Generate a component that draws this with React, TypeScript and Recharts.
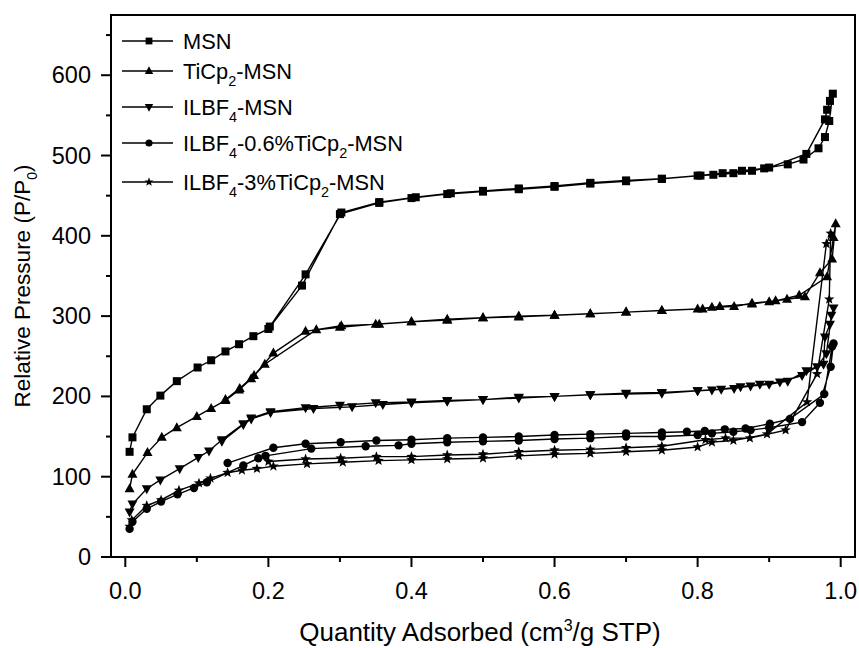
import { Label, Legend, Line, LineChart, ReferenceArea, XAxis, YAxis } from "recharts";

const FONT = "Arial, 'Liberation Sans', sans-serif";

// each series: adsorption branch, then desorption branch back down
const MSN_X = [
  0.006, 0.01, 0.03, 0.049, 0.072, 0.101, 0.12, 0.14, 0.159, 0.179, 0.2, 0.247, 0.3, 0.355, 0.4, 0.45, 0.5, 0.55,
  0.6, 0.65, 0.7, 0.75, 0.8, 0.835, 0.862, 0.893, 0.926, 0.948, 0.969, 0.978, 0.984, 0.989,
  0.985, 0.981, 0.978, 0.952, 0.9, 0.876, 0.85, 0.822, 0.804, 0.75, 0.7, 0.65, 0.6, 0.55, 0.5, 0.455, 0.406, 0.355,
  0.302, 0.252, 0.202
];
const MSN_Y = [
  131, 149, 184, 201, 219, 236, 245, 256, 265, 275, 284, 338, 427, 441, 447, 452, 455, 458,
  461, 465, 468, 471, 475, 478, 481, 484, 489, 495, 509, 523, 543, 577,
  568, 557, 545, 502, 485, 481, 478, 476, 475, 471, 469, 466, 462, 459, 456, 453, 448, 442,
  429, 352, 287
];

const TICP_X = [
  0.006, 0.01, 0.031, 0.051, 0.072, 0.1, 0.12, 0.14, 0.159, 0.176, 0.195, 0.267, 0.3, 0.35, 0.4, 0.45, 0.5, 0.55,
  0.6, 0.65, 0.7, 0.75, 0.807, 0.831, 0.876, 0.9, 0.925, 0.95, 0.971, 0.988, 0.993,
  0.99, 0.981, 0.942, 0.909, 0.876, 0.851, 0.82, 0.8, 0.75, 0.7, 0.65, 0.6, 0.55, 0.5, 0.45, 0.4, 0.355, 0.302,
  0.252, 0.207, 0.18, 0.16, 0.14
];
const TICP_Y = [
  85, 103, 130, 149, 161, 175, 185, 195, 208, 222, 240, 283, 286, 290, 293, 295, 298, 299,
  301, 303, 305, 307, 309, 312, 315, 318, 321, 324, 354, 371, 415,
  398, 349, 326, 319, 316, 312, 311, 309, 307, 305, 303, 301, 300, 298, 296, 293, 290, 288,
  281, 254, 226, 210, 196
];

const IL_X = [
  0.006, 0.01, 0.03, 0.049, 0.076, 0.102, 0.117, 0.135, 0.165, 0.176, 0.203, 0.252, 0.3, 0.35, 0.4, 0.45, 0.5, 0.55,
  0.6, 0.65, 0.7, 0.75, 0.8, 0.833, 0.86, 0.887, 0.915, 0.946, 0.967, 0.98, 0.987, 0.99,
  0.985, 0.978, 0.976, 0.952, 0.926, 0.9, 0.874, 0.851, 0.82, 0.8, 0.75, 0.7, 0.65, 0.6, 0.55, 0.5, 0.45, 0.4,
  0.36, 0.317, 0.263, 0.203, 0.176, 0.165, 0.135
];
const IL_Y = [
  56, 66, 85, 96, 110, 124, 132, 146, 166, 173, 181, 186, 189, 192, 193, 195, 196, 199,
  200, 202, 204, 205, 207, 209, 212, 215, 218, 226, 237, 253, 301, 310,
  290, 274, 240, 232, 219, 215, 213, 210, 208, 207, 204, 203, 202, 200, 198, 196, 194, 192,
  190, 187, 185, 180, 172, 165, 144
];

const IL06_X = [
  0.006, 0.01, 0.03, 0.05, 0.073, 0.096, 0.114, 0.165, 0.186, 0.196, 0.26, 0.336, 0.382, 0.4, 0.45, 0.5, 0.55,
  0.6, 0.65, 0.7, 0.75, 0.8, 0.82, 0.85, 0.874, 0.9, 0.946, 0.971, 0.986, 0.99,
  0.988, 0.977, 0.929, 0.901, 0.867, 0.838, 0.81, 0.785, 0.75, 0.7, 0.65, 0.6, 0.55, 0.5, 0.45, 0.4, 0.351,
  0.301, 0.252, 0.207, 0.143
];
const IL06_Y = [
  35, 44, 60, 69, 78, 86, 93, 114, 123, 126, 135, 138, 139, 141, 143, 144, 145,
  147, 148, 150, 150, 152, 154, 156, 158, 161, 168, 192, 237, 266,
  262, 203, 172, 166, 160, 159, 157, 156, 155, 154, 153, 152, 150, 149, 148, 146, 145,
  143, 141, 136, 117
];

const IL3_X = [
  0.006, 0.009, 0.03, 0.05, 0.075, 0.103, 0.119, 0.143, 0.163, 0.184, 0.207, 0.254, 0.304, 0.354, 0.4, 0.45, 0.5,
  0.55, 0.6, 0.65, 0.7, 0.75, 0.8, 0.82, 0.85, 0.897, 0.953, 0.98, 0.986,
  0.984, 0.967, 0.923, 0.873, 0.839, 0.811, 0.75, 0.7, 0.65, 0.6, 0.55, 0.5, 0.45, 0.4, 0.351, 0.301, 0.252, 0.2
];
const IL3_Y = [
  38, 46, 64, 71, 83, 92, 98, 105, 108, 110, 113, 116, 118, 120, 121, 122, 123,
  126, 128, 129, 131, 133, 137, 143, 145, 153, 193, 390, 403,
  321, 228, 158, 148, 148, 146, 138, 136, 134, 133, 131, 128, 127, 125, 125, 123, 122, 119
];

const X_TICKS = [0, 0.1, 0.2, 0.3, 0.4, 0.5, 0.6, 0.7, 0.8, 0.9, 1.0];
const Y_TICKS = [0, 50, 100, 150, 200, 250, 300, 350, 400, 450, 500, 550, 600, 650];

type Shape = "square" | "up" | "down" | "circle" | "star";

const pair = (xs: number[], ys: number[]) => xs.map((x, i) => ({ x, y: ys[i] }));

const SERIES: { name: string; shape: Shape; data: { x: number; y: number }[] }[] = [
  { name: "MSN", shape: "square", data: pair(MSN_X, MSN_Y) },
  { name: "TiCp_2-MSN", shape: "up", data: pair(TICP_X, TICP_Y) },
  { name: "ILBF_4-MSN", shape: "down", data: pair(IL_X, IL_Y) },
  { name: "ILBF_4-0.6%TiCp_2-MSN", shape: "circle", data: pair(IL06_X, IL06_Y) },
  { name: "ILBF_4-3%TiCp_2-MSN", shape: "star", data: pair(IL3_X, IL3_Y) }
];

function starPoints(cx: number, cy: number, ro: number, ri: number) {
  const pts: string[] = [];
  for (let i = 0; i < 10; i++) {
    const a = ((-90 + i * 36) * Math.PI) / 180;
    const r = i % 2 ? ri : ro;
    pts.push(`${cx + r * Math.cos(a)},${cy + r * Math.sin(a)}`);
  }
  return pts.join(" ");
}

function Marker({ shape, cx, cy, scale = 1 }: { shape: Shape; cx: number; cy: number; scale?: number }) {
  const s = scale;
  switch (shape) {
    case "square":
      return <rect x={cx - 4 * s} y={cy - 4 * s} width={8 * s} height={8 * s} fill="#000" />;
    case "up":
      return (
        <polygon
          points={`${cx},${cy - 5.5 * s} ${cx - 5 * s},${cy + 3.5 * s} ${cx + 5 * s},${cy + 3.5 * s}`}
          fill="#000"
        />
      );
    case "down":
      return (
        <polygon
          points={`${cx},${cy + 5.5 * s} ${cx - 5 * s},${cy - 3.5 * s} ${cx + 5 * s},${cy - 3.5 * s}`}
          fill="#000"
        />
      );
    case "circle":
      return <circle cx={cx} cy={cy} r={4.2 * s} fill="#000" />;
    default:
      return <polygon points={starPoints(cx, cy, 5.5 * s, 2.3 * s)} fill="#000" />;
  }
}

const dotFor = (shape: Shape) => (props: any) => {
  const { cx, cy, index } = props;
  if (cx == null || cy == null) return <g key={`${shape}-${index}`} />;
  return (
    <g key={`${shape}-${index}`}>
      <Marker shape={shape} cx={cx} cy={cy} />
    </g>
  );
};

// "TiCp_2-MSN" -> TiCp, subscript 2, -MSN
function RichText({ text, x, y, size }: { text: string; x: number; y: number; size: number }) {
  const parts = text.split(/_(\d)/);
  let shifted = false;
  return (
    <text x={x} y={y} fontSize={size} fontFamily={FONT} fill="#000">
      {parts.map((p, i) => {
        if (i % 2 === 1) {
          shifted = true;
          return (
            <tspan key={i} dy={7} fontSize={size * 0.66}>
              {p}
            </tspan>
          );
        }
        const dy = shifted ? -7 : 0;
        shifted = false;
        return (
          <tspan key={i} dy={dy}>
            {p}
          </tspan>
        );
      })}
    </text>
  );
}

const LEGEND_ROWS = [21, 51, 87, 123, 162];

function LegendBox() {
  return (
    <svg width={360} height={180} style={{ display: "block" }}>
      {SERIES.map((s, i) => {
        const cy = LEGEND_ROWS[i];
        return (
          <g key={s.name}>
            <line x1={12} x2={63} y1={cy} y2={cy} stroke="#000" strokeWidth={1.5} />
            <Marker shape={s.shape} cx={39} cy={cy} scale={0.85} />
            <RichText text={s.name} x={73} y={cy + 7.5} size={21.8} />
          </g>
        );
      })}
    </svg>
  );
}

function XTick(props: any) {
  const { x, y, payload } = props;
  const v = payload.value as number;
  const major = Math.round(v * 10) % 2 === 0;
  return (
    <g>
      <line x1={x} x2={x} y1={y} y2={y + (major ? 10 : 5)} stroke="#000" strokeWidth={2} />
      {major && (
        <text x={x} y={y + 42} textAnchor="middle" fontSize={23.5} fontFamily={FONT} fill="#000">
          {v.toFixed(1)}
        </text>
      )}
    </g>
  );
}

function YTick(props: any) {
  const { x, y, payload } = props;
  const v = payload.value as number;
  const major = v % 100 === 0;
  return (
    <g>
      <line x1={x - (major ? 10 : 5)} x2={x} y1={y} y2={y} stroke="#000" strokeWidth={2} />
      {major && (
        <text x={x - 20} y={y + 8} textAnchor="end" fontSize={23.5} fontFamily={FONT} fill="#000">
          {v}
        </text>
      )}
    </g>
  );
}

function XTitle(props: any) {
  const vb = props.viewBox;
  return (
    <text x={vb.x + vb.width / 2 - 3} y={vb.y + 84} textAnchor="middle" fontSize={26} fontFamily={FONT} fill="#000">
      <tspan>Quantity Adsorbed (cm</tspan>
      <tspan dy={-10} fontSize={16}>
        3
      </tspan>
      <tspan dy={10}>/g STP)</tspan>
    </text>
  );
}

function YTitle(props: any) {
  const vb = props.viewBox;
  const cx = 30;
  const cy = vb.y + vb.height / 2;
  return (
    <text
      x={cx}
      y={cy}
      transform={`rotate(-90, ${cx}, ${cy})`}
      textAnchor="middle"
      fontSize={22.5}
      fontFamily={FONT}
      fill="#000"
    >
      <tspan>Relative Pressure (P/P</tspan>
      <tspan dy={7} fontSize={14}>
        0
      </tspan>
      <tspan dy={-7}>)</tspan>
    </text>
  );
}

export default function App() {
  return (
    <div style={{ position: "absolute", left: 0, top: 0, background: "#fff", fontFamily: FONT }}>
      <LineChart width={859} height={648} margin={{ top: 15, right: 4, bottom: 0, left: 0 }}>
        <XAxis
          dataKey="x"
          type="number"
          domain={[-0.02, 1.02]}
          allowDataOverflow
          ticks={X_TICKS}
          interval={0}
          tickSize={0}
          tickMargin={0}
          tickLine={false}
          tick={<XTick />}
          axisLine={{ stroke: "#000", strokeWidth: 2 }}
          height={91}
        >
          <Label content={<XTitle />} />
        </XAxis>
        <YAxis
          dataKey="y"
          type="number"
          domain={[0, 675]}
          allowDataOverflow
          ticks={Y_TICKS}
          interval={0}
          tickSize={0}
          tickMargin={0}
          tickLine={false}
          tick={<YTick />}
          axisLine={{ stroke: "#000", strokeWidth: 2 }}
          width={111}
        >
          <Label content={<YTitle />} />
        </YAxis>
        <ReferenceArea x1={-0.02} x2={1.02} y1={0} y2={675} fill="none" stroke="#000" strokeWidth={2} />
        {SERIES.map((s) => (
          <Line
            key={s.name}
            data={s.data}
            dataKey="y"
            name={s.name}
            type="linear"
            stroke="#000"
            strokeWidth={1.4}
            dot={dotFor(s.shape)}
            activeDot={false}
            isAnimationActive={false}
          />
        ))}
        <Legend
          layout="vertical"
          align="center"
          verticalAlign="middle"
          content={() => <LegendBox />}
          wrapperStyle={{ left: 110, top: 20, width: 360, height: 180 }}
        />
      </LineChart>
    </div>
  );
}
